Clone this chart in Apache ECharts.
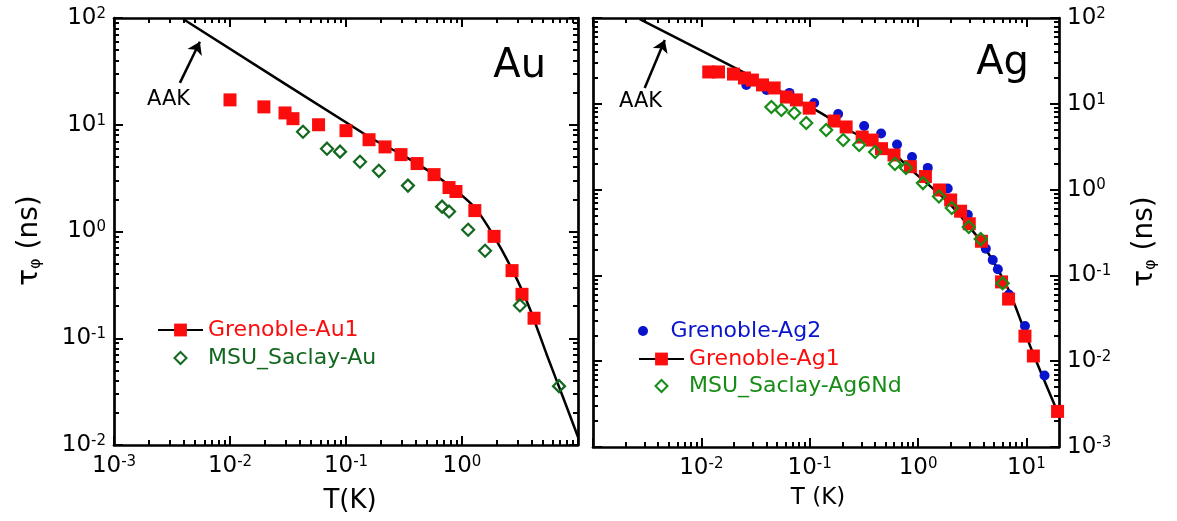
<!DOCTYPE html>
<html><head><meta charset="utf-8">
<script src="https://cdn.jsdelivr.net/npm/echarts@6/dist/echarts.min.js"></script>
<style>html,body{margin:0;padding:0;background:#fff}#c{width:1177px;height:521px}</style>
</head><body><div id="c"></div>
<script>
// ---------- DATA ----------
// Left panel (Au)
const auRedT   = [0.01, 0.0196, 0.0298, 0.0349, 0.058, 0.1, 0.158, 0.217, 0.298, 0.41, 0.574, 0.773, 0.887, 1.29, 1.89, 2.70, 3.29, 4.18];
const auRedTau = [17.1, 14.7, 12.9, 11.4, 10.0, 8.8, 7.24, 6.2, 5.25, 4.33, 3.41, 2.58, 2.37, 1.57, 0.90, 0.43, 0.258, 0.154];
const auGreenT   = [0.0426, 0.0686, 0.0888, 0.132, 0.192, 0.342, 0.673, 0.773, 1.13, 1.58, 3.16, 6.86];
const auGreenTau = [8.6, 5.97, 5.6, 4.5, 3.7, 2.69, 1.71, 1.54, 1.04, 0.66, 0.203, 0.0356];
const auLineT   = [0.00394, 0.161, 0.298, 0.646, 1.29, 2.0, 2.98, 3.86, 5.41, 7.43, 10];
const auLineTau = [98, 7.6, 5.3, 3.13, 1.67, 0.81, 0.356, 0.187, 0.069, 0.028, 0.0119];
// Right panel (Ag)
const agBlueT   = [0.026, 0.04, 0.065, 0.11, 0.183, 0.318, 0.456, 0.64, 0.88, 1.23, 1.88, 2.88, 4.22, 4.89, 5.45, 6.9, 9.7, 14.7];
const agBlueTau = [16.6, 14.5, 13.4, 10.2, 7.6, 5.5, 4.5, 3.35, 2.4, 1.79, 1.03, 0.51, 0.205, 0.151, 0.118, 0.06, 0.0257, 0.0068];
const agRedT   = [0.0117, 0.0144, 0.0198, 0.025, 0.0296, 0.0367, 0.047, 0.061, 0.0753, 0.099, 0.168, 0.217, 0.305, 0.377, 0.46, 0.6, 0.85, 1.17, 1.58, 2.0, 2.47, 2.97, 3.85, 5.9, 6.85, 9.7, 11.6, 19.4];
const agRedTau = [23.5, 23.5, 22.2, 20.0, 18.9, 16.6, 15.3, 12.0, 11.1, 8.9, 6.3, 5.37, 4.1, 3.78, 3.0, 2.53, 1.85, 1.42, 0.99, 0.757, 0.56, 0.40, 0.25, 0.084, 0.053, 0.0196, 0.0115, 0.0026];
const agGreenT   = [0.0443, 0.0548, 0.0721, 0.093, 0.142, 0.204, 0.286, 0.402, 0.612, 0.774, 1.11, 1.56, 2.05, 2.94, 3.79, 6.04];
const agGreenTau = [9.18, 8.47, 7.8, 5.97, 4.95, 3.78, 3.31, 2.74, 1.99, 1.79, 1.19, 0.83, 0.61, 0.366, 0.265, 0.081];
const agLineT   = [0.0027, 0.106, 0.247, 0.575, 0.824, 1.92, 3.87, 6.86, 11.2, 18.6];
const agLineTau = [97, 8.9, 4.69, 2.74, 1.79, 0.70, 0.239, 0.0676, 0.0135, 0.0029];
// Arrow annotations (data coords)
const auArrow = [[0.0037, 24.7], [0.0055, 60]];
const agArrow = [[0.0030, 15.3], [0.0046, 55.5]];
// Tick labels
const auXLabels = [0.001, 0.01, 0.1, 1];
const auYLabels = [0.01, 0.1, 1, 10, 100];
const agXLabels = [0.01, 0.1, 1, 10];
const agYLabels = [0.001, 0.01, 0.1, 1, 10, 100];

// ---------- HELPERS ----------
const FONT = 'DejaVu Sans';
const RED = '#fb0d0d', BLUE = '#0a14cc', GREEN_AU = '#13681f', GREEN_AG = '#178c17';
const DIAMOND_ICON = 'path://M0,-1L1,0L0,1L-1,0Z';
const zip = (a, b) => a.map((v, i) => [v, b[i]]);
function decades(min, max) { const r = []; for (let e = Math.round(Math.log10(min)); Math.pow(10, e) <= max * 1.0001; e++) r.push(Math.pow(10, e)); return r; }
function minors(min, max) { const r = []; for (let e = Math.floor(Math.log10(min)); e <= Math.ceil(Math.log10(max)); e++) for (let k = 2; k <= 9; k++) { const v = k * Math.pow(10, e); if (v > min && v < max) r.push(v); } return r; }
const fmt = v => '{b|10}{s|' + Math.round(Math.log10(v)) + '}';
const rich = { b: { fontSize: 23, fontFamily: FONT, color: '#000' }, s: { fontSize: 15, fontFamily: FONT, color: '#000', verticalAlign: 'top' } };

function axisSet(dim, g, min, max, labels, labelPos) {
  const positions = dim === 'x' ? ['bottom', 'top'] : ['left', 'right'];
  const out = [];
  positions.forEach(pos => {
    const showLab = pos === labelPos;
    out.push({
      type: 'log', logBase: 10, gridIndex: g, position: pos, min, max,
      axisLine: { show: true, onZero: false, lineStyle: { color: '#000', width: 2.7 } },
      axisTick: { show: true, inside: true, length: 9, lineStyle: { color: '#000', width: 2 }, customValues: decades(min, max) },
      axisLabel: showLab ? { show: true, customValues: labels, formatter: fmt, rich, margin: dim === 'x' ? 10 : 8 } : { show: false },
      splitLine: { show: false }, minorTick: { show: false }
    });
    out.push({
      type: 'log', logBase: 10, gridIndex: g, position: pos, min, max,
      axisLine: { show: false, onZero: false },
      axisTick: { show: true, inside: true, length: 5, lineStyle: { color: '#000', width: 2 }, customValues: minors(min, max) },
      axisLabel: { show: false }, splitLine: { show: false }
    });
  });
  return out;
}

const xAxes = [].concat(axisSet('x', 0, 0.001, 10, auXLabels, 'bottom'), axisSet('x', 1, 0.001, 20, agXLabels, 'bottom'));
const yAxes = [].concat(axisSet('y', 0, 0.01, 100, auYLabels, 'left'), axisSet('y', 1, 0.001, 100, agYLabels, 'right'));
// axis titles
xAxes[0].name = 'T(K)'; xAxes[0].nameLocation = 'middle'; xAxes[0].nameGap = 43;
xAxes[0].nameTextStyle = { fontFamily: FONT, fontSize: 26, color: '#000', padding: [0, 0, 0, 8] };
xAxes[4].name = 'T (K)'; xAxes[4].nameLocation = 'middle'; xAxes[4].nameGap = 40;
xAxes[4].nameTextStyle = { fontFamily: FONT, fontSize: 23, color: '#000', padding: [0, 16, 0, 0] };
const yTitle = { name: '{t|τ}{p|φ}{t| (ns)}', nameLocation: 'middle', nameRotate: 90,
  nameTextStyle: { padding: [0, 18, 0, 0], rich: { t: { fontFamily: FONT, fontSize: 28, color: '#000' }, p: { fontFamily: FONT, fontSize: 16, color: '#000', verticalAlign: 'bottom' } } } };
Object.assign(yAxes[0], yTitle, { nameGap: 70 });
Object.assign(yAxes[6], yTitle, { nameGap: 72 });

function arrowLine(a) {
  return { silent: true, symbol: ['none', 'arrow'], symbolSize: 12, animation: false,
    label: { show: false }, lineStyle: { color: '#000', width: 2.5, type: 'solid' },
    emphasis: { disabled: true },
    data: [[{ coord: a[0] }, { coord: a[1] }]] };
}
const lineSeries = (name, g, T, tau, arrow) => ({
  name, type: 'line', xAxisIndex: g * 4, yAxisIndex: g * 4, data: zip(T, tau),
  showSymbol: false, symbol: 'rect', smooth: 0.25, color: RED,
  lineStyle: { color: '#000', width: 2.5 }, z: 2, markLine: arrowLine(arrow)
});
const scat = (name, g, T, tau, symbol, size, style, z) => ({
  name, type: 'scatter', xAxisIndex: g * 4, yAxisIndex: g * 4, data: zip(T, tau),
  symbol, symbolSize: size, itemStyle: Object.assign({ opacity: 1 }, style), z
});

// legend: icon centre cx, text start tx
const legendItem = (name, color, cx, cy, iw, ih, tx, icon) => ({
  left: cx - iw / 2, top: cy - 12, padding: 0, itemWidth: iw, itemHeight: ih, selectedMode: false,
  data: [Object.assign({ name, textStyle: { color } }, icon ? { icon } : {})],
  textStyle: { fontFamily: FONT, fontSize: 22, lineHeight: 24, padding: [0, 0, 0, tx - (cx + iw / 2 + 5)] }
});

const option = {
  animation: false,
  grid: [
    { left: 114, top: 18, width: 464, height: 427 },
    { left: 593, top: 18, width: 466, height: 429 }
  ],
  xAxis: xAxes, yAxis: yAxes,
  legend: [
    legendItem('Grenoble-Au1', RED, 179.5, 330, 45, 16, 207),
    legendItem('MSU_Saclay-Au', GREEN_AU, 179.5, 358, 12, 12, 207, DIAMOND_ICON),
    legendItem('Grenoble-Ag2', BLUE, 660.5, 331, 45, 10, 688),
    legendItem('Grenoble-Ag1', RED, 660.5, 359, 45, 16, 688),
    legendItem('MSU_Saclay-Ag6Nd', GREEN_AG, 660.5, 386, 12, 12, 688, DIAMOND_ICON)
  ],
  series: [
    lineSeries('Grenoble-Au1', 0, auLineT, auLineTau, auArrow),
    scat('Grenoble-Au1', 0, auRedT, auRedTau, 'rect', 13, { color: RED }, 4),
    scat('MSU_Saclay-Au', 0, auGreenT, auGreenTau, 'diamond', 12, { color: 'rgba(255,255,255,0)', borderColor: GREEN_AU, borderWidth: 2.2 }, 5),
    lineSeries('Grenoble-Ag1', 1, agLineT, agLineTau, agArrow),
    scat('Grenoble-Ag2', 1, agBlueT, agBlueTau, 'circle', 10, { color: BLUE }, 3),
    scat('Grenoble-Ag1', 1, agRedT, agRedTau, 'rect', 13, { color: RED }, 4),
    scat('MSU_Saclay-Ag6Nd', 1, agGreenT, agGreenTau, 'diamond', 12, { color: 'rgba(255,255,255,0)', borderColor: GREEN_AG, borderWidth: 2.2 }, 5)
  ],
  graphic: [
    { type: 'text', left: 147, top: 89, style: { text: 'AAK', font: '21px ' + FONT, fill: '#000' } },
    { type: 'text', left: 619, top: 91, style: { text: 'AAK', font: '21px ' + FONT, fill: '#000' } },
    { type: 'text', right: 1177 - 546, top: 47, style: { text: 'Au', font: '40px ' + FONT, fill: '#000' } },
    { type: 'text', right: 1177 - 1029, top: 44, style: { text: 'Ag', font: '40px ' + FONT, fill: '#000' } }
  ]
};
const chart = echarts.init(document.getElementById('c'), null, { renderer: 'canvas' });
chart.setOption(option);
</script></body></html>
